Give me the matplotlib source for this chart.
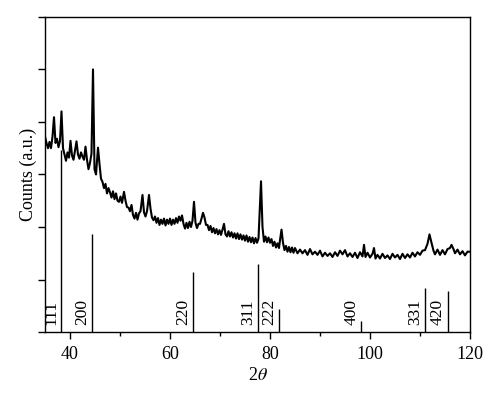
import matplotlib
matplotlib.use("Agg")
from matplotlib import pyplot as plt
from matplotlib.ticker import MultipleLocator

# measured pattern (2theta, counts in a.u.)
two_theta = [
    35.0, 35.3, 35.6, 35.9, 36.2, 36.5, 36.8, 37.1, 37.4, 37.7, 38.0, 38.3, 38.6, 38.9,
    39.2, 39.5, 39.8, 40.1, 40.4, 40.7, 41.0, 41.3, 41.6, 41.9, 42.2, 42.5, 42.8, 43.1,
    43.4, 43.7, 44.0, 44.3, 44.6, 44.9, 45.2, 45.6, 45.9, 46.2, 46.5, 46.8, 47.1, 47.4,
    47.7, 48.0, 48.3, 48.6, 48.9, 49.2, 49.5, 49.8, 50.1, 50.4, 50.8, 51.1, 51.4, 51.7,
    52.0, 52.3, 52.6, 52.9, 53.2, 53.5, 53.8, 54.1, 54.5, 54.8, 55.1, 55.4, 55.8, 56.1,
    56.4, 56.7, 57.0, 57.3, 57.6, 57.9, 58.2, 58.5, 58.8, 59.1, 59.4, 59.7, 60.0, 60.3,
    60.6, 60.9, 61.2, 61.5, 61.8, 62.1, 62.4, 62.7, 63.0, 63.3, 63.6, 63.9, 64.2, 64.5,
    64.8, 65.1, 65.4, 65.7, 66.0, 66.3, 66.6, 66.9, 67.2, 67.5, 67.8, 68.1, 68.4, 68.7,
    69.0, 69.3, 69.6, 69.9, 70.2, 70.5, 70.8, 71.1, 71.4, 71.7, 72.0, 72.3, 72.6, 72.9,
    73.2, 73.5, 73.8, 74.1, 74.4, 74.7, 75.0, 75.3, 75.6, 75.9, 76.2, 76.5, 76.8, 77.1,
    77.4, 77.7, 77.9, 78.2, 78.5, 78.8, 79.1, 79.4, 79.7, 80.0, 80.3, 80.6, 80.9, 81.2,
    81.5, 81.8, 82.0, 82.3, 82.6, 82.9, 83.2, 83.5, 83.8, 84.1, 84.4, 84.7, 85.0, 85.5,
    86.0, 86.5, 87.0, 87.5, 88.0, 88.5, 89.0, 89.5, 90.0, 90.5, 91.0, 91.5, 92.0, 92.5,
    93.0, 93.5, 94.0, 94.5, 95.0, 95.5, 96.0, 96.5, 97.0, 97.5, 98.0, 98.5, 98.8, 99.1,
    99.5, 100.0, 100.5, 100.8, 101.1, 101.5, 102.0, 102.5, 103.0, 103.5, 104.0, 104.5,
    105.0, 105.5, 106.0, 106.5, 107.0, 107.5, 108.0, 108.5, 109.0, 109.5, 110.0, 110.5,
    111.0, 111.5, 111.9, 112.3, 112.7, 113.0, 113.5, 114.0, 114.5, 115.0, 115.5, 116.0,
    116.3, 116.7, 117.0, 117.5, 118.0, 118.5, 119.0, 119.5, 120.0,
]
counts = [
    3.72, 3.60, 3.50, 3.62, 3.50, 3.72, 4.09, 3.60, 3.68, 3.52, 3.64, 4.20, 3.50, 3.38,
    3.26, 3.42, 3.32, 3.64, 3.36, 3.28, 3.46, 3.63, 3.38, 3.30, 3.42, 3.34, 3.28, 3.53,
    3.28, 3.10, 3.22, 3.40, 5.00, 3.10, 3.00, 3.51, 3.20, 2.92, 2.86, 2.74, 2.82, 2.64,
    2.74, 2.66, 2.56, 2.68, 2.53, 2.64, 2.50, 2.48, 2.58, 2.46, 2.67, 2.50, 2.38, 2.37,
    2.30, 2.42, 2.23, 2.16, 2.27, 2.14, 2.26, 2.30, 2.61, 2.28, 2.20, 2.30, 2.61, 2.35,
    2.18, 2.13, 2.20, 2.08, 2.17, 2.04, 2.14, 2.06, 2.16, 2.03, 2.14, 2.06, 2.16, 2.04,
    2.14, 2.06, 2.17, 2.08, 2.20, 2.12, 2.22, 2.06, 1.97, 2.08, 1.98, 2.10, 2.00, 2.12,
    2.48, 2.08, 1.98, 2.06, 2.06, 2.16, 2.27, 2.18, 2.04, 2.04, 1.94, 2.02, 1.90, 1.98,
    1.88, 1.96, 1.86, 1.94, 1.85, 1.95, 2.06, 1.86, 1.82, 1.92, 1.82, 1.90, 1.80, 1.88,
    1.78, 1.88, 1.77, 1.86, 1.76, 1.84, 1.74, 1.84, 1.72, 1.81, 1.71, 1.80, 1.69, 1.79,
    1.70, 1.78, 2.20, 2.87, 2.00, 1.72, 1.82, 1.71, 1.80, 1.70, 1.77, 1.64, 1.72, 1.61,
    1.69, 1.60, 1.75, 1.95, 1.70, 1.56, 1.64, 1.53, 1.62, 1.52, 1.61, 1.51, 1.60, 1.50,
    1.57, 1.50, 1.56, 1.47, 1.58, 1.48, 1.53, 1.47, 1.55, 1.44, 1.51, 1.45, 1.50, 1.43,
    1.52, 1.45, 1.55, 1.48, 1.56, 1.44, 1.50, 1.43, 1.51, 1.41, 1.52, 1.44, 1.66, 1.43,
    1.51, 1.42, 1.49, 1.60, 1.40, 1.47, 1.40, 1.49, 1.41, 1.46, 1.39, 1.49,
    1.42, 1.47, 1.39, 1.49, 1.41, 1.48, 1.42, 1.51, 1.44, 1.52, 1.47, 1.55,
    1.56, 1.68, 1.86, 1.70, 1.55, 1.48, 1.57, 1.47, 1.56, 1.48, 1.58, 1.60,
    1.66, 1.58, 1.50, 1.57, 1.48, 1.54, 1.46, 1.53, 1.53,
]

# reference reflections
ref_pos = [38.2, 44.4, 64.6, 77.5, 81.7, 98.2, 110.9, 115.5]
ref_height = [3.47, 1.87, 1.15, 1.30, 0.44, 0.21, 0.83, 0.79]
ref_hkl = ["111", "200", "220", "311", "222", "400", "331", "420"]

plt.rcParams['font.family'] = ['Liberation Serif', 'DejaVu Serif']
plt.rcParams['mathtext.fontset'] = 'stix'

fig = plt.figure(figsize=(5.0, 4.11), dpi=100)
ax = fig.add_axes([0.09, 0.192, 0.85, 0.767])

ax.plot(two_theta, counts, color='black', lw=1.5)
ax.vlines(ref_pos, 0, ref_height, color='black', lw=1.0)
for p, hkl in zip(ref_pos, ref_hkl):
    ax.text(p - 0.3, 0.13, hkl, rotation=90, ha='right', va='bottom', fontsize=12.5)

ax.set_xlim(35, 120)
ax.set_ylim(0, 6)
ax.xaxis.set_major_locator(MultipleLocator(20))
ax.xaxis.set_minor_locator(MultipleLocator(10))
ax.yaxis.set_major_locator(MultipleLocator(1))
ax.set_yticklabels([])
ax.tick_params(axis='x', which='major', length=5, width=1, labelsize=13, pad=5)
ax.tick_params(axis='x', which='minor', length=3, width=1)
ax.tick_params(axis='y', length=5, width=1)
for s in ax.spines.values():
    s.set_linewidth(1.0)

ax.set_xlabel(r'2$\it{\theta}$', fontsize=13, labelpad=3)
ax.set_ylabel('Counts (a.u.)', fontsize=13, labelpad=-3)

fig.savefig('out.png', dpi=100)
